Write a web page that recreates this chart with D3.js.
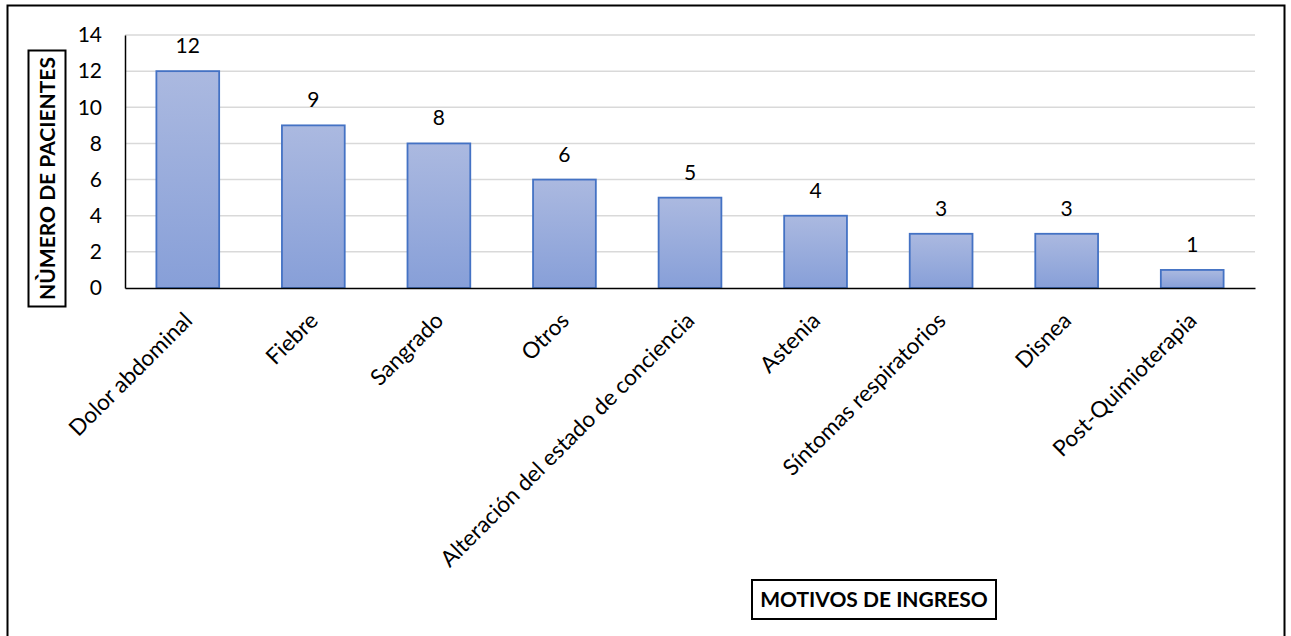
<!DOCTYPE html>
<html>
<head>
<meta charset="utf-8">
<script src="https://cdn.jsdelivr.net/npm/d3@7"></script>
<style>
  html, body { margin: 0; padding: 0; background: #fff; }
  svg { display: block; font-family: Lato, "Open Sans", sans-serif; }
</style>
</head>
<body>
<svg id="chart" width="1291" height="636"></svg>
<script>
// Motivos de ingreso y número de pacientes
const categories = [
  "Dolor abdominal", "Fiebre", "Sangrado", "Otros",
  "Alteración del estado de conciencia", "Astenia",
  "Síntomas respiratorios", "Disnea", "Post-Quimioterapia"
];
const patients = [12, 9, 8, 6, 5, 4, 3, 3, 1];
const yTicks = [0, 2, 4, 6, 8, 10, 12, 14];
const yTitle = "NÙMERO DE PACIENTES";
const xTitle = "MOTIVOS DE INGRESO";

const FONT = 21;
const svg = d3.select("#chart");
const W = 1291, H = 636;
const margin = { left: 125, right: 36, top: 35, bottom: 348 };
const plotW = W - margin.left - margin.right;
const plotH = H - margin.top - margin.bottom;

// outer frame
svg.append("rect")
  .attr("x", 7.5).attr("y", 5.5)
  .attr("width", 1277).attr("height", 640)
  .attr("fill", "none").attr("stroke", "#000").attr("stroke-width", 2);

const defs = svg.append("defs");
const grad = defs.append("linearGradient")
  .attr("id", "barFill").attr("x1", 0).attr("y1", 0).attr("x2", 0).attr("y2", 1);
grad.append("stop").attr("offset", "0%").attr("stop-color", "#abb9e0");
grad.append("stop").attr("offset", "100%").attr("stop-color", "#879fd8");

const g = svg.append("g").attr("transform", `translate(${margin.left},${margin.top})`);

const x = d3.scaleBand().domain(categories).range([0, plotW]).paddingInner(0.5).paddingOuter(0.25);
const y = d3.scaleLinear().domain([0, 14]).range([plotH, 0]);

// horizontal gridlines
g.append("g")
  .selectAll("line")
  .data(yTicks.filter(d => d > 0))
  .join("line")
  .attr("x1", 0).attr("x2", plotW)
  .attr("y1", d => y(d)).attr("y2", d => y(d))
  .attr("stroke", "#d9d9d9").attr("stroke-width", 1.5);

// y axis
const yAxis = g.append("g").call(
  d3.axisLeft(y).tickValues(yTicks).tickSize(0).tickPadding(23)
);
yAxis.select(".domain").attr("stroke", "#000").attr("stroke-width", 1.5);
yAxis.selectAll("text")
  .attr("font-family", "Lato, sans-serif")
  .attr("font-size", FONT).attr("fill", "#000");

// bars
g.append("g")
  .selectAll("rect")
  .data(patients)
  .join("rect")
  .attr("x", (d, i) => x(categories[i]))
  .attr("y", d => y(d))
  .attr("width", x.bandwidth())
  .attr("height", d => plotH - y(d))
  .attr("fill", "url(#barFill)")
  .attr("stroke", "#4472c4").attr("stroke-width", 1.8);

// value labels
g.append("g")
  .selectAll("text")
  .data(patients)
  .join("text")
  .attr("x", (d, i) => x(categories[i]) + x.bandwidth() / 2)
  .attr("y", d => y(d) - 18)
  .attr("text-anchor", "middle")
  .attr("font-size", FONT).attr("fill", "#000")
  .text(d => d);

// x axis with rotated category labels
const xAxis = g.append("g")
  .attr("transform", `translate(0,${plotH})`)
  .call(d3.axisBottom(x).tickSize(0).tickPadding(0));
xAxis.select(".domain").attr("stroke", "#000").attr("stroke-width", 1.5);
xAxis.selectAll("text")
  .attr("font-family", "Lato, sans-serif")
  .attr("font-size", 22.5).attr("fill", "#000")
  .attr("text-anchor", "end")
  .attr("dy", 0)
  .attr("transform", "translate(6,34) rotate(-45)");

// y axis title in a box
const yt = svg.append("g").attr("transform", "translate(47,178.5) rotate(-90)");
yt.append("rect")
  .attr("x", -128).attr("y", -18.5).attr("width", 256).attr("height", 37)
  .attr("fill", "#fff").attr("stroke", "#000").attr("stroke-width", 2);
yt.append("text")
  .attr("text-anchor", "middle").attr("dy", "0.36em")
  .attr("font-size", FONT).attr("font-weight", "bold").attr("fill", "#000")
  .text(yTitle);

// x axis title in a box
const xt = svg.append("g").attr("transform", "translate(874,599.5)");
xt.append("rect")
  .attr("x", -122).attr("y", -19.5).attr("width", 244).attr("height", 39)
  .attr("fill", "#fff").attr("stroke", "#000").attr("stroke-width", 2);
xt.append("text")
  .attr("text-anchor", "middle").attr("dy", "0.36em")
  .attr("font-size", FONT).attr("font-weight", "bold").attr("fill", "#000")
  .text(xTitle);
</script>
</body>
</html>
